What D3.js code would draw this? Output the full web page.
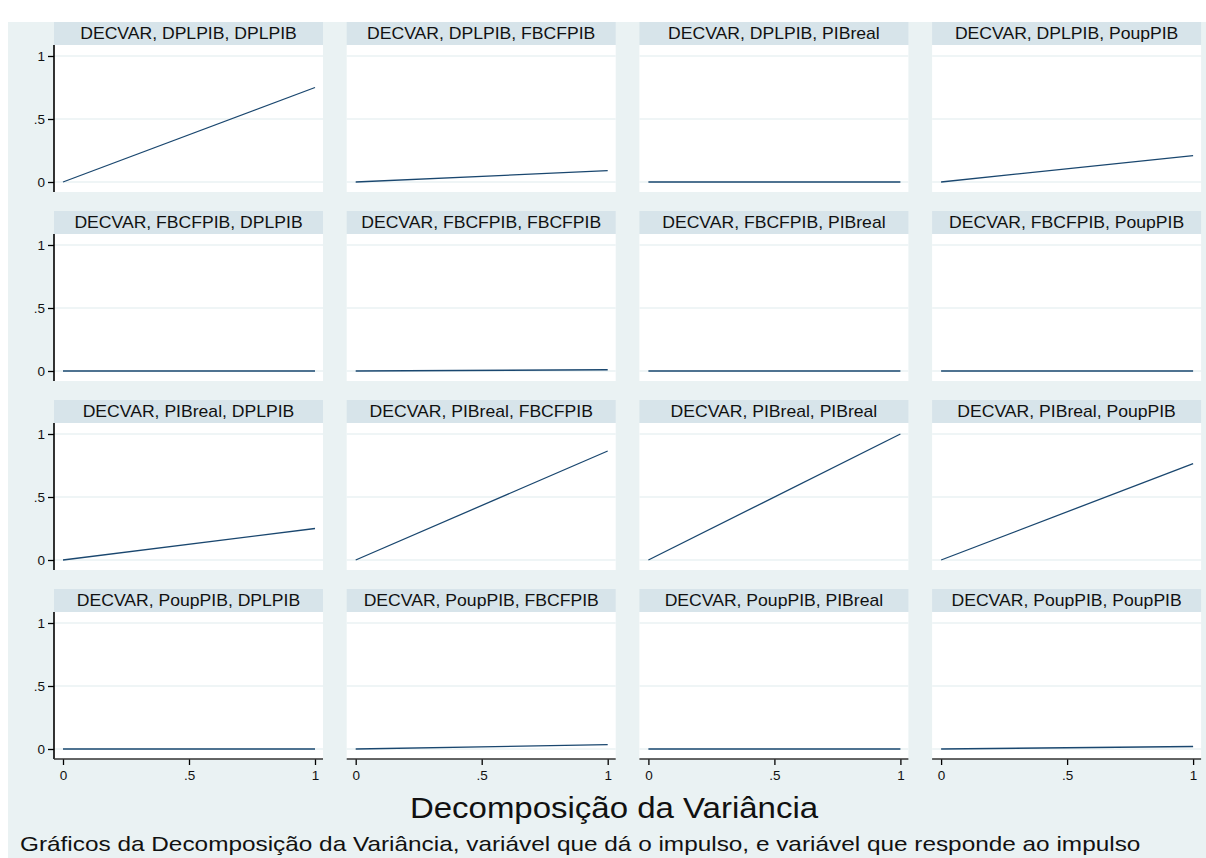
<!DOCTYPE html>
<html>
<head>
<meta charset="utf-8">
<script src="https://cdn.jsdelivr.net/npm/d3@7"></script>
<style>
  body { margin: 0; background: #fff; }
  text { font-family: "Liberation Sans", Arial, sans-serif; }
</style>
</head>
<body>
<svg id="drawing_region"></svg>
<script>
// variaveis: impulso (linhas) e resposta (colunas)
var impulses = ['DPLPIB', 'FBCFPIB', 'PIBreal', 'PoupPIB'];
var responses = ['DPLPIB', 'FBCFPIB', 'PIBreal', 'PoupPIB'];
var steps = [0, 1];

// valor no passo 1 (passo 0 = 0), uma lista por impulso
var fevdDPLPIB  = [0.75, 0.09, 0.0, 0.21];
var fevdFBCFPIB = [0.0, 0.01, 0.0, 0.0];
var fevdPIBreal = [0.25, 0.865, 1.0, 0.765];
var fevdPoupPIB = [0.0, 0.035, 0.0, 0.02];

var xticks = [0, 0.5, 1];
var yticks = [0, 0.5, 1];
var tickLabel = d => d === 0 ? '0' : d === 1 ? '1' : '.5';

var title = 'Decomposição da Variância';
var subtitle = 'Gráficos da Decomposição da Variância, variável que dá o impulso, e variável que responde ao impulso';

var rows = [fevdDPLPIB, fevdFBCFPIB, fevdPIBreal, fevdPoupPIB];

var config = {
  width: 1206,
  height: 858,
  left: 54, top: 22,
  panelW: 269, colPitch: 292.7,
  stripH: 23, plotH: 147, rowPitch: 189
};

var svg = d3.select('#drawing_region')
  .attr('width', config.width)
  .attr('height', config.height);

svg.append('rect').attr('width', config.width).attr('height', config.height).attr('fill', '#ffffff');
svg.append('rect')
  .attr('x', 8).attr('y', config.top)
  .attr('width', config.width - 8).attr('height', config.height - config.top)
  .attr('fill', '#eaf2f3');

var xscale = d3.scaleLinear().domain([0, 1]).range([9, config.panelW - 8]);
var yscale = d3.scaleLinear().domain([0, 1]).range([137, 11]);

var line = d3.line()
  .x(d => xscale(d.step))
  .y(d => yscale(d.value));

// o texto do original e mais largo, esticado na horizontal
function stretched(parent, x, y, sx, size, anchor, str) {
  parent.append('text')
    .attr('transform', `translate(${x}, ${y}) scale(${sx}, 1)`)
    .attr('text-anchor', anchor)
    .attr('font-size', size)
    .attr('fill', '#111')
    .text(str);
}

rows.forEach((vals, i) => {
  vals.forEach((v, j) => {
    var px = config.left + j * config.colPitch;
    var py = config.top + i * config.rowPitch;
    var g = svg.append('g').attr('transform', `translate(${px}, ${py})`);

    // faixa do titulo
    g.append('rect')
      .attr('width', config.panelW).attr('height', config.stripH)
      .attr('fill', '#d7e4ea');
    stretched(g, config.panelW / 2, 16.5, 1.1, 16, 'middle',
      `DECVAR, ${impulses[i]}, ${responses[j]}`);

    var plot = g.append('g').attr('transform', `translate(0, ${config.stripH})`);
    plot.append('rect')
      .attr('width', config.panelW).attr('height', config.plotH)
      .attr('fill', '#ffffff');

    plot.selectAll('line.grid')
      .data(yticks)
      .enter()
      .append('line')
      .attr('class', 'grid')
      .attr('x1', 0).attr('x2', config.panelW)
      .attr('y1', d => yscale(d)).attr('y2', d => yscale(d))
      .attr('stroke', '#eaf2f3')
      .attr('stroke-width', 1.5);

    var series = steps.map(s => ({step: s, value: s === 0 ? 0 : v}));
    plot.append('path')
      .datum(series)
      .attr('d', line)
      .attr('fill', 'none')
      .attr('stroke', '#1a476f')
      .attr('stroke-width', 1.3);

    if (j === 0) {
      var yaxis = d3.axisLeft(yscale)
        .tickValues(yticks)
        .tickFormat(tickLabel)
        .tickSize(6)
        .tickPadding(3);
      var ya = plot.append('g').call(yaxis);
      ya.select('.domain').remove();
      ya.append('line')
        .attr('x1', 0).attr('x2', 0)
        .attr('y1', 0).attr('y2', config.plotH)
        .attr('stroke', '#000').attr('stroke-width', 1.6);
      ya.selectAll('.tick line').attr('stroke', '#000').attr('stroke-width', 1.3);
      ya.selectAll('.tick text')
        .attr('font-size', 13.5).attr('fill', '#111')
        .style('font-family', '"Liberation Sans", Arial, sans-serif');
    }

    if (i === rows.length - 1) {
      var xaxis = d3.axisBottom(xscale)
        .tickValues(xticks)
        .tickFormat(tickLabel)
        .tickSize(6)
        .tickPadding(5);
      var xa = plot.append('g')
        .attr('transform', `translate(0, ${config.plotH})`)
        .call(xaxis);
      xa.select('.domain').remove();
      xa.append('line')
        .attr('x1', 0).attr('x2', config.panelW)
        .attr('y1', 0).attr('y2', 0)
        .attr('stroke', '#333').attr('stroke-width', 1.6);
      xa.selectAll('.tick line').attr('stroke', '#000').attr('stroke-width', 1.3);
      xa.selectAll('.tick text')
        .attr('font-size', 13.5).attr('fill', '#111')
        .style('font-family', '"Liberation Sans", Arial, sans-serif');
    }
  });
});

stretched(svg, 614, 818, 1.1, 30, 'middle', title);
stretched(svg, 20, 851, 1.16, 21, 'start', subtitle);
</script>
</body>
</html>
